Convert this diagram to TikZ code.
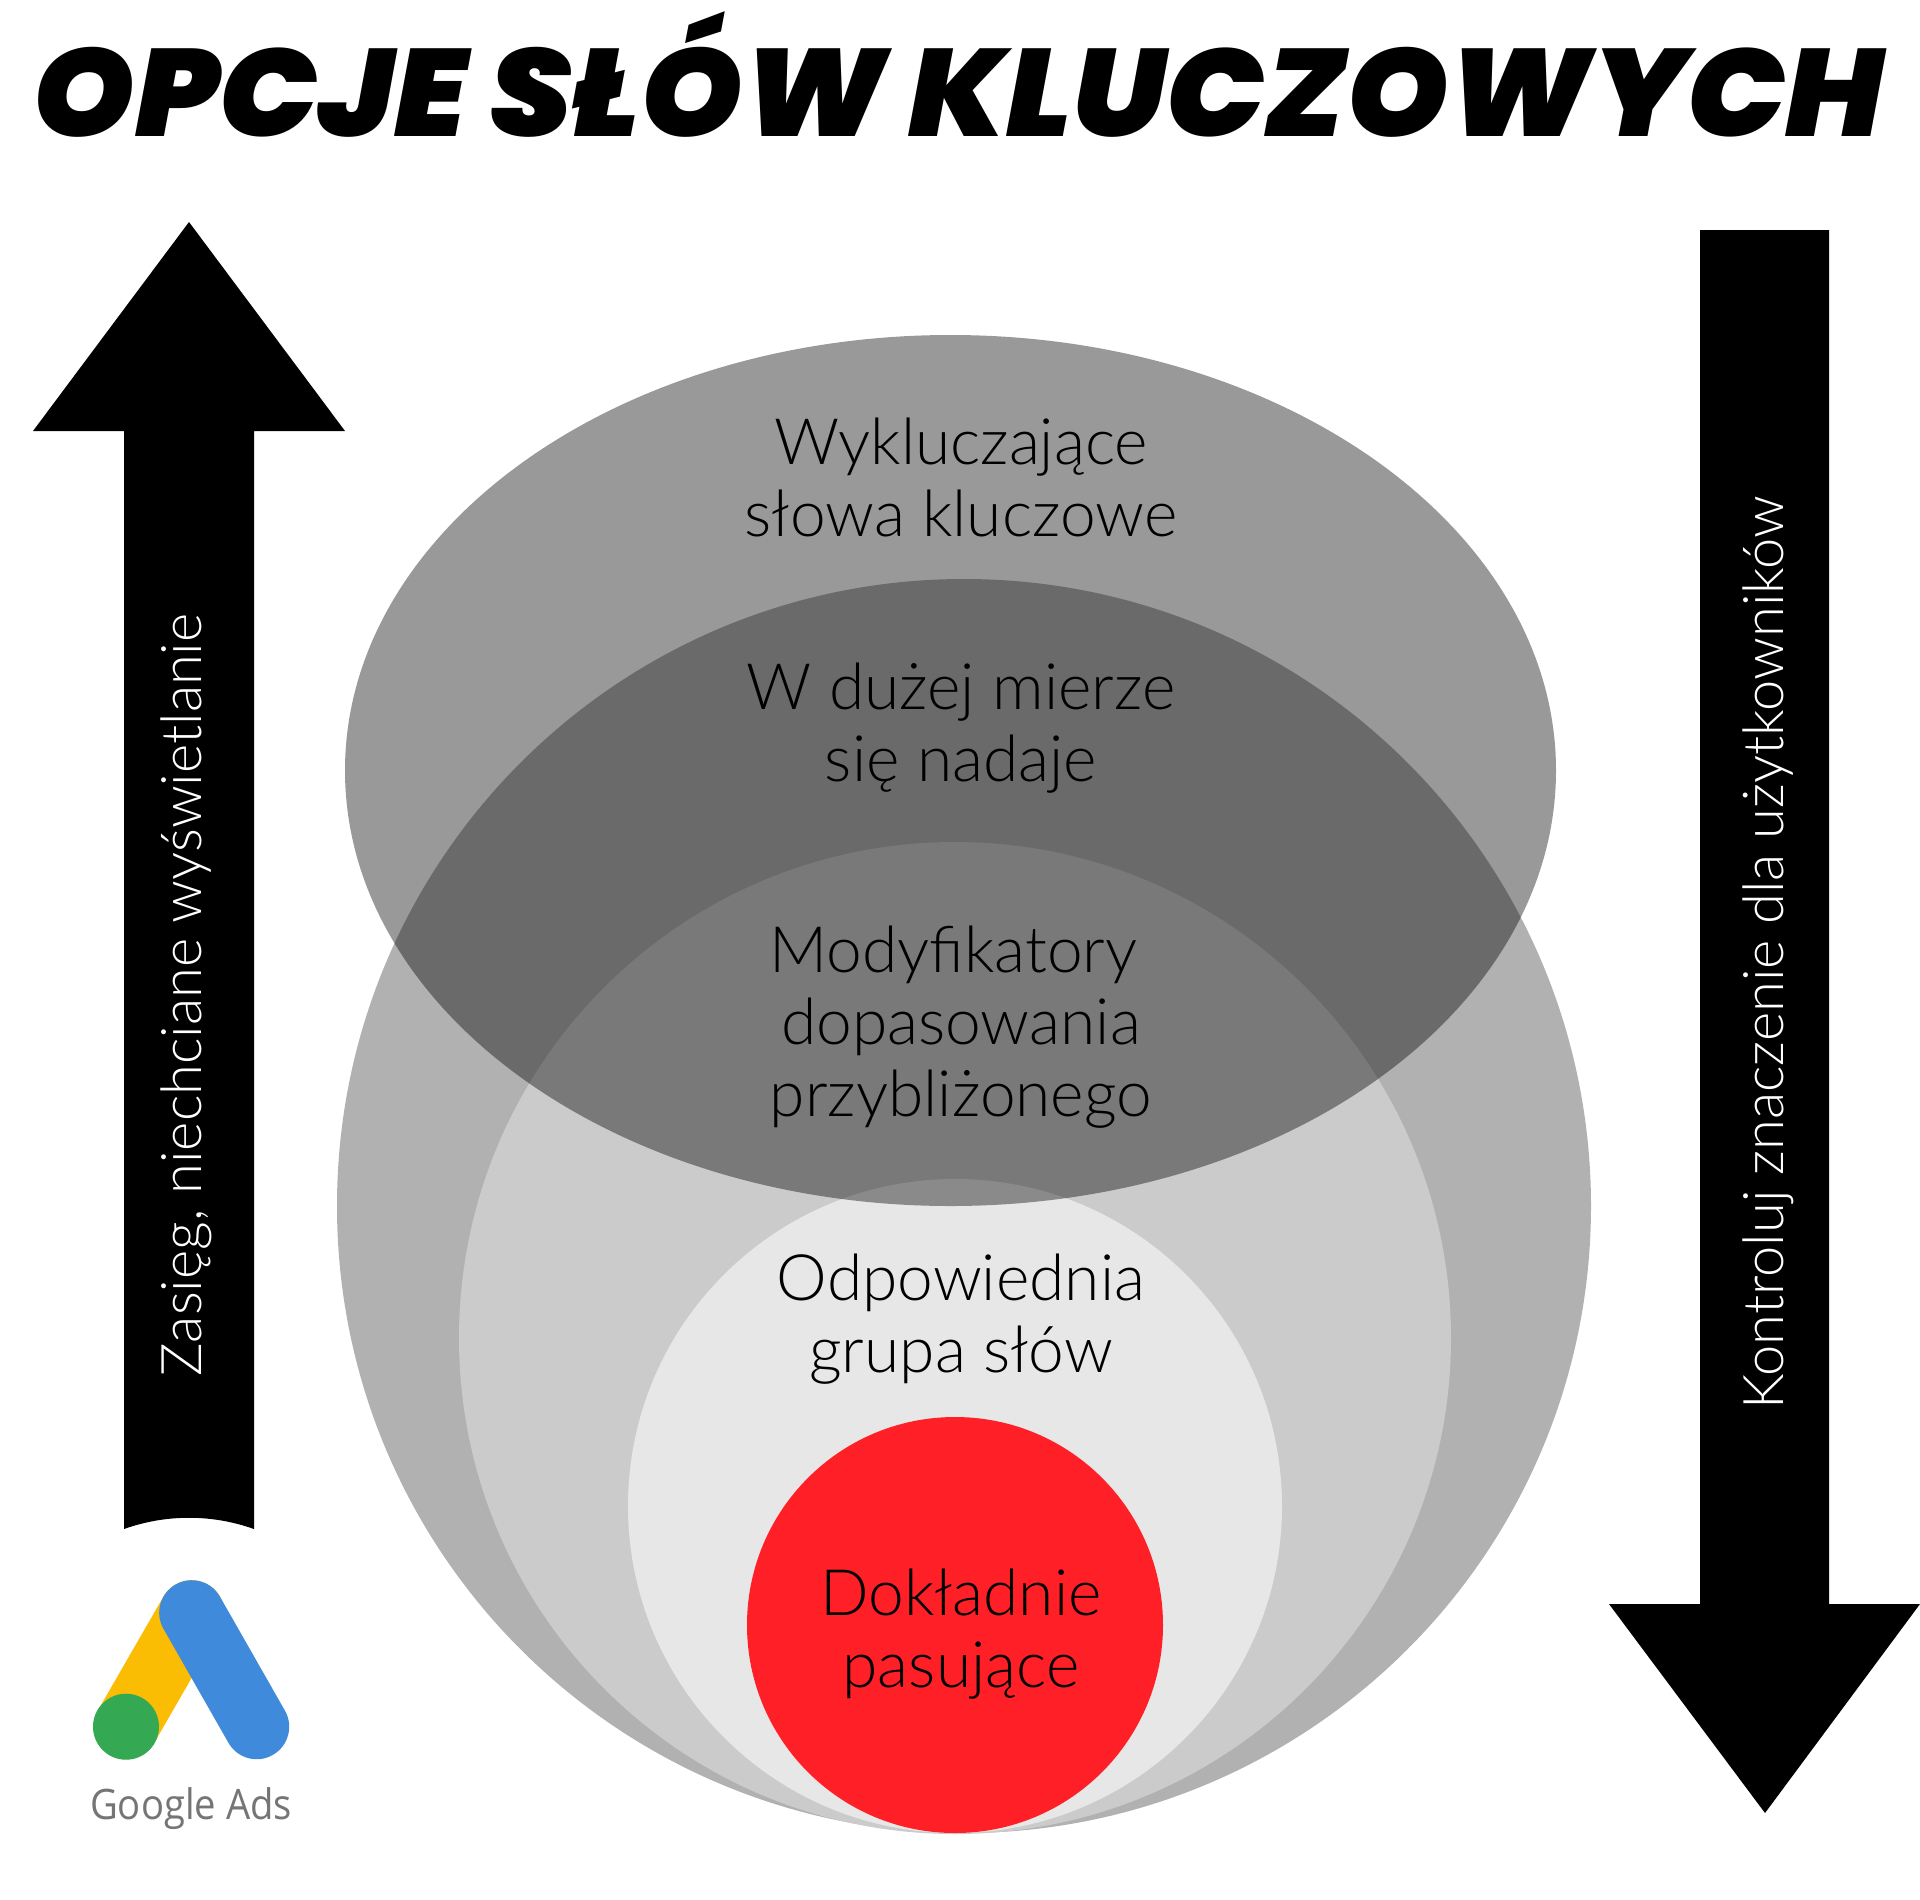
\documentclass[tikz,border=0pt]{standalone}
\usepackage{fontspec}
\setmainfont[UprightFont={* Light}]{Lato}
\newfontfamily\titlefont[UprightFont={* Black Italic},BoldFont={* Black Italic}]{Poppins}
\newfontfamily\logofont{Open Sans}
\definecolor{bigc}{HTML}{B1B1B1}
\definecolor{midc}{HTML}{CBCBCB}
\definecolor{lightc}{HTML}{E7E7E7}
\definecolor{redc}{HTML}{FF1F27}
\definecolor{gyellow}{HTML}{FBBC04}
\definecolor{gblue}{HTML}{3F8ADA}
\definecolor{ggreen}{HTML}{34A853}
\definecolor{ggrey}{HTML}{757575}
\tikzset{
 lab/.style={align=center,inner sep=0pt,text=black,font=\fontsize{64}{72}\selectfont},
 sidelab/.style={inner sep=0pt,text=white,rotate=90,font=\fontsize{56}{64}\selectfont},
 capsule/.style={line width=65pt,line cap=round}
}
\begin{document}
\begin{tikzpicture}[x=1pt,y=-1pt]
\useasboundingbox (0,0) rectangle (1920,1899);
\fill[white] (0,0) rectangle (1920,1899);
\node[inner sep=0pt,anchor=base] (title) at (958,136) {\scalebox{1.05}[1]{\titlefont\fontsize{124}{130}\selectfont OPCJE SŁÓW KLUCZOWYCH}};
% side arrows
\fill (189,222) -- (345,431) -- (254,431) -- (254,1529) .. controls (212,1514) and (166,1514) .. (124,1529) -- (124,431) -- (33,431) -- cycle;
\fill (1700,230) -- (1829,230) -- (1829,1604) -- (1920,1604) -- (1765,1813) -- (1609,1604) -- (1700,1604) -- cycle;
% circles
\fill[bigc] (964,1206) circle (627);
\fill[midc] (955,1338) circle (496);
\fill[lightc] (955,1506) circle (327);
\fill[redc] (955,1625) circle (208);
\fill[black,opacity=.4] (950.5,770.5) ellipse (605.5 and 435.5);
% labels
\node[lab] (n1) at (961,477) {Wykluczające\\słowa kluczowe};
\node[lab] (n2) at (961,728) {W dużej mierze\\się nadaje};
\node[lab] (n3) at (961,1027) {Modyfikatory\hspace*{15pt}\\dopasowania\\przybliżonego};
\node[lab] (n4) at (961,1319) {Odpowiednia\\grupa słów};
\node[lab] (n5) at (961,1634) {Dokładnie\\pasujące};
\node[sidelab] (s1) at (186,995) {Zasięg, niechciane wyświetlanie};
\node[sidelab] (s2) at (1768,953) {Kontroluj znaczenie dla użytkowników};
% logo
\draw[capsule,gyellow] (191.7,1612.7) -- (126,1726.7);
\draw[capsule,gblue] (191.7,1612.7) -- (256.7,1726.7);
\fill[ggreen] (126,1726.7) circle (33);
\node[inner sep=0pt,text=ggrey,font=\logofont\fontsize{42}{50}\selectfont] (g) at (191,1809) {\scalebox{.91}[1]{Google Ads}};
\end{tikzpicture}
\end{document}
